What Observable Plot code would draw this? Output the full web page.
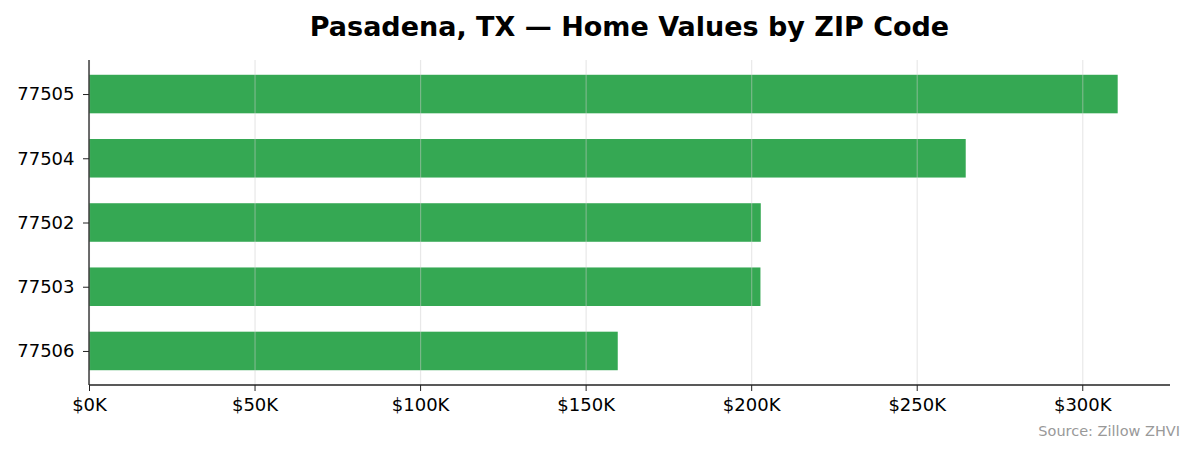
<!DOCTYPE html>
<html>
<head>
<meta charset="utf-8">
<script src="https://cdn.jsdelivr.net/npm/d3@7"></script>
<script src="https://cdn.jsdelivr.net/npm/@observablehq/plot@0.6"></script>
<style>
  html, body { margin: 0; padding: 0; background: #fff; }
  body { width: 1195px; height: 455px; overflow: hidden; font-family: "DejaVu Sans", sans-serif; }
  #title { position: absolute; left: 89px; width: 1081px; top: 0; height: 50px; line-height: 54px;
           text-align: center; font-weight: bold; font-size: 27px; color: #000; }
  #chart { position: absolute; left: 0; top: 50px; }
  #caption { position: absolute; right: 15px; top: 423px; font-size: 14.5px; color: #999; }
</style>
</head>
<body>
<div id="title">Pasadena, TX — Home Values by ZIP Code</div>
<div id="chart"></div>
<div id="caption">Source: Zillow ZHVI</div>
<script>
const zips = ["77505", "77504", "77502", "77503", "77506"];
const values = [310700, 264800, 202900, 202800, 159700];
const xTicks = [0, 50000, 100000, 150000, 200000, 250000, 300000];

const data = zips.map((z, i) => ({zip: z, value: values[i]}));

const W = 1195, H = 375, mL = 89, mR = 25, mT = 10, mB = 40;
const fmt = d => "$" + Math.round(d / 1000) + "K";

const plot = Plot.plot({
  width: W,
  height: H,
  marginLeft: mL,
  marginRight: mR,
  marginTop: mT,
  marginBottom: mB,
  style: {fontFamily: "DejaVu Sans, sans-serif", fontSize: "18px", color: "#000", background: "#fff"},
  x: {domain: [0, 326500], ticks: xTicks, tickFormat: fmt, label: null},
  y: {domain: zips, paddingInner: 0.4, paddingOuter: 0.23, round: false, label: null},
  marks: [
    Plot.barX(data, {x: "value", y: "zip", fill: "#35a853"}),
    Plot.ruleX(xTicks, {stroke: "#cccccc", strokeOpacity: 0.45, strokeWidth: 1.2}),
    Plot.axisX({ticks: xTicks, tickFormat: fmt, tickSize: 6, tickPadding: 7, stroke: "#222", fill: "#000", fontSize: 18}),
    Plot.axisY({tickSize: 6, tickPadding: 9, stroke: "#222", fill: "#000", fontSize: 18})
  ]
});

document.getElementById("chart").appendChild(plot);

// spines (left and bottom) using the plot's own scales
const xs = plot.scale("x");
const svg = d3.select(plot);
const x0 = xs.apply(0);
const [rx0, rx1] = xs.range;
svg.append("line").attr("x1", x0).attr("x2", x0).attr("y1", mT).attr("y2", H - mB)
  .attr("stroke", "#222").attr("stroke-width", 1.3);
svg.append("line").attr("x1", rx0).attr("x2", rx1).attr("y1", H - mB).attr("y2", H - mB)
  .attr("stroke", "#222").attr("stroke-width", 1.3);
</script>
</body>
</html>
